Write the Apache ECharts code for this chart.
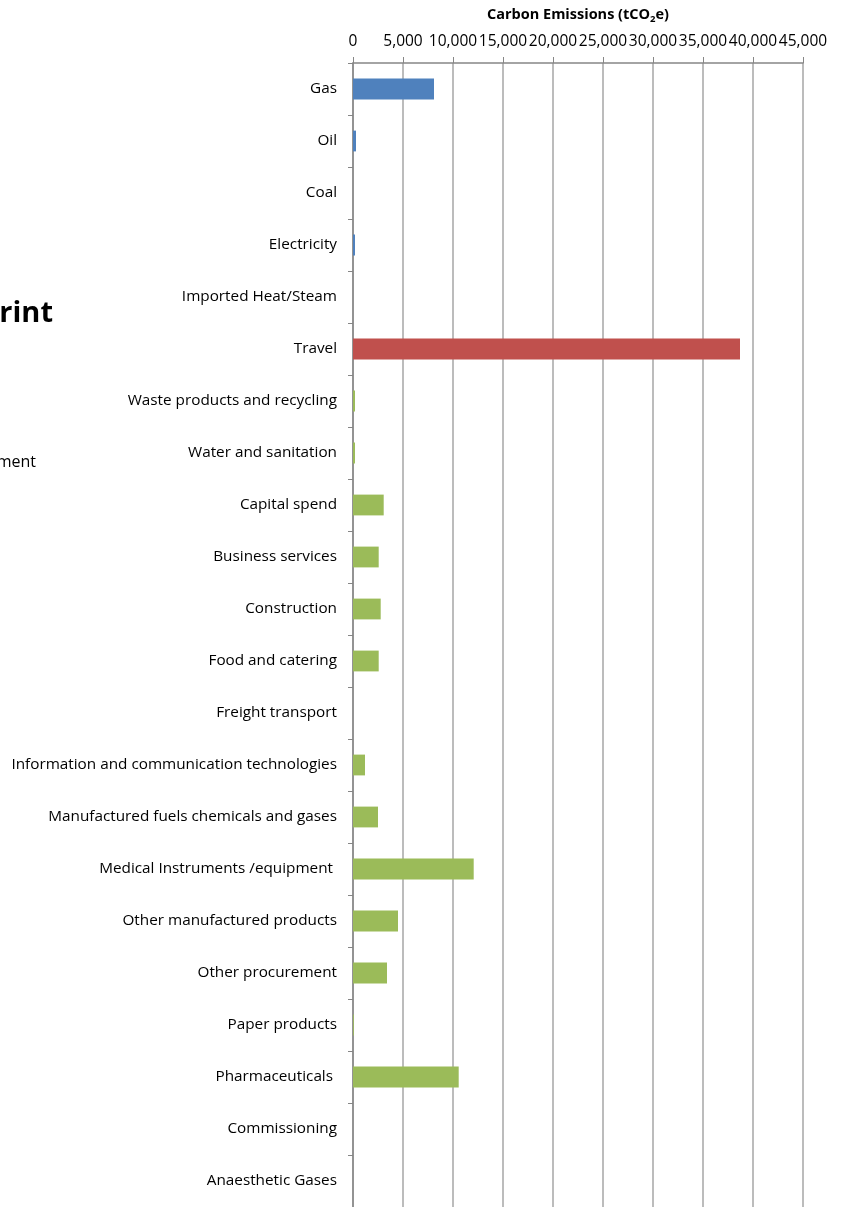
<!DOCTYPE html>
<html>
<head>
<meta charset="utf-8">
<script src="https://cdn.jsdelivr.net/npm/echarts@6/dist/echarts.min.js"></script>
<style>
  html, body { margin: 0; padding: 0; background: #fff; }
  #chart { width: 842px; height: 1207px; }
</style>
</head>
<body>
<div id="chart"></div>
<script>
// 类别（从上到下）
const categories = [
  'Gas', 'Oil', 'Coal', 'Electricity', 'Imported Heat/Steam', 'Travel',
  'Waste products and recycling', 'Water and sanitation', 'Capital spend',
  'Business services', 'Construction', 'Food and catering', 'Freight transport',
  'Information and communication technologies', 'Manufactured fuels chemicals and gases',
  'Medical Instruments /equipment ', 'Other manufactured products', 'Other procurement',
  'Paper products', 'Pharmaceuticals ', 'Commissioning', 'Anaesthetic Gases'
];

// 排放量 (tCO2e)
const emissions = [
  8100, 300, 0, 200, 0, 38700,
  200, 200, 3070,
  2570, 2770, 2570, 0,
  1200, 2500,
  12070, 4500, 3400,
  80, 10570, 0, 0
];

// 分组：能源 / 出行 / 采购
const groups = [
  'energy', 'energy', 'energy', 'energy', 'energy', 'travel',
  'procurement', 'procurement', 'procurement', 'procurement', 'procurement',
  'procurement', 'procurement', 'procurement', 'procurement', 'procurement',
  'procurement', 'procurement', 'procurement', 'procurement', 'procurement', 'procurement'
];

const axisTicks = [0, 5000, 10000, 15000, 20000, 25000, 30000, 35000, 40000, 45000];

const groupColor = { energy: '#4f81bd', travel: '#c0504d', procurement: '#9bbb59' };
const font = '"Open Sans", "Noto Sans", sans-serif';

const myChart = echarts.init(document.getElementById('chart'));

const option = {
  animation: false,
  backgroundColor: '#fff',
  textStyle: { fontFamily: font },
  graphic: [
    {
      type: 'text', right: 789, top: 299,
      style: { text: 'Carbon Footprint', fontSize: 29, fontWeight: 'bold', fill: '#000', fontFamily: font }
    },
    {
      type: 'text', right: 806, top: 454,
      style: { text: 'Procurement', fontSize: 16, fill: '#000', fontFamily: font }
    }
  ],
  title: {
    text: '{t|Carbon Emissions (tCO}{s|2}{t|e)}',
    left: 573,
    top: 1,
    textAlign: 'center',
    textStyle: {
      rich: {
        t: { fontSize: 14.5, fontWeight: 'bold', color: '#000', fontFamily: font },
        s: { fontSize: 9.5, fontWeight: 'bold', color: '#000', fontFamily: font, padding: [8, 0, 0, 0] }
      }
    }
  },
  grid: {
    left: 353,
    top: 63,
    width: 450,
    height: 1148
  },
  xAxis: {
    type: 'value',
    position: 'top',
    min: axisTicks[0],
    max: axisTicks[axisTicks.length - 1],
    interval: axisTicks[1] - axisTicks[0],
    axisLine: { show: true, lineStyle: { color: '#868686', width: 1.5 } },
    axisTick: { show: true, length: 6, lineStyle: { color: '#868686' } },
    axisLabel: {
      fontSize: 15.5, color: '#000', margin: 13, fontFamily: font,
      formatter: v => v.toLocaleString('en-US')
    },
    splitLine: { show: true, lineStyle: { color: '#a6a6a6', width: 1.5 } }
  },
  yAxis: {
    type: 'category',
    inverse: true,
    data: categories,
    axisLine: { show: true, lineStyle: { color: '#868686', width: 1.5 } },
    axisTick: { show: true, length: 5, lineStyle: { color: '#868686' } },
    axisLabel: { fontSize: 15.3, color: '#000', margin: 16, fontFamily: font, padding: [2, 0, 0, 0] }
  },
  series: [
    {
      type: 'bar',
      barCategoryGap: '60%',
      data: emissions.map((v, i) => ({
        value: v,
        itemStyle: { color: groupColor[groups[i]] }
      }))
    }
  ]
};

myChart.setOption(option);
</script>
</body>
</html>
